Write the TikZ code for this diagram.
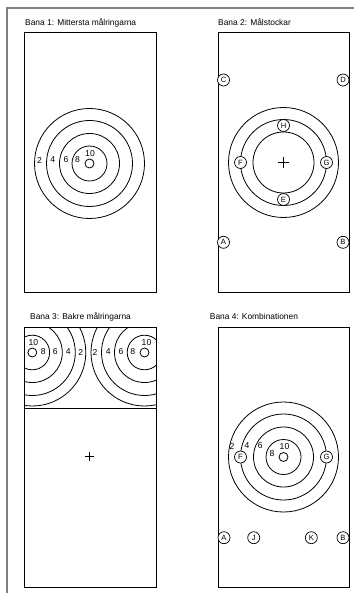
\documentclass[tikz,border=0pt]{standalone}
\usepackage{fontspec}
\setmainfont{Liberation Sans}
\begin{document}
\begin{tikzpicture}[x=1pt,y=-1pt,
  frame/.style={draw=black!50, line width=1.4pt},
  lane/.style={draw=black, line width=0.9pt},
  ring/.style={draw=black, line width=0.8pt},
  title/.style={anchor=base west, inner sep=0pt, font=\fontsize{8.4}{10}\selectfont},
  lbl/.style={inner sep=0pt, font=\fontsize{8.6}{10}\selectfont},
  letter/.style={circle, draw=black, line width=0.7pt, fill=white, minimum size=12pt, inner sep=0pt, font=\fontsize{7.6}{8}\selectfont},
  plus/.style={draw=black, line width=0.7pt}]
\useasboundingbox (0,0) rectangle (354,593);
% outer frame
\draw[frame] (7,593) -- (7,8) -- (354,8);

% ---------- Bana 1 ----------
\node[title] (t1) at (25,26) {Bana 1: Mittersta målringarna};
\draw[lane] (24,32.5) rectangle (156,292.5);
\foreach \r in {55,43,30,17.5,4.5} \draw[ring] (89.5,163.5) circle (\r);
\node[lbl] (b1l2) at (39.5,160) {2};
\node[lbl] (b1l4) at (52.8,160) {4};
\node[lbl] (b1l6) at (66,160) {6};
\node[lbl] (b1l8) at (77.5,160) {8};
\node[lbl] (b1l10) at (90,153.3) {10};

% ---------- Bana 2 ----------
\node[title] (t2) at (218,26) {Bana 2: Målstockar};
\draw[lane] (218,32.5) rectangle (349,292.5);
\foreach \r in {55,43,30.5} \draw[ring] (283.5,162.5) circle (\r);
\draw[plus] (278.2,162.5) -- (288.8,162.5) (283.5,157.2) -- (283.5,167.8);
\node[letter] (b2C) at (223.5,80) {C};
\node[letter] (b2D) at (343,80) {D};
\node[letter] (b2A) at (223.5,242.3) {A};
\node[letter] (b2B) at (343,242.3) {B};
\node[letter] (b2H) at (283.5,125.5) {H};
\node[letter] (b2E) at (283.5,199.5) {E};
\node[letter] (b2F) at (240.5,162.5) {F};
\node[letter] (b2G) at (326.5,162.5) {G};

% ---------- Bana 3 ----------
\node[title] (t3) at (30,319.8) {Bana 3: Bakre målringarna};
\begin{scope}
  \clip (24,327) rectangle (156,408.3);
  \foreach \r in {53.5,43,30,17.3} {
    \draw[ring] (32.3,352.5) circle (\r);
    \draw[ring] (144.5,352.5) circle (\r);
  }
\end{scope}
\draw[ring] (32.3,352.5) circle (4.5);
\draw[ring] (144.5,352.5) circle (4.5);
\draw[lane] (24,327) rectangle (156,587.5);
\draw[lane] (24,408.3) -- (156,408.3);
\draw[plus] (84.8,456.7) -- (94.2,456.7) (89.5,452) -- (89.5,461.4);
\node[lbl] (b3l10) at (33.3,342.5) {10};
\node[lbl] (b3l8) at (43.3,352) {8};
\node[lbl] (b3l6) at (55.2,352) {6};
\node[lbl] (b3l4) at (68.3,352) {4};
\node[lbl] (b3l2) at (80.7,352) {2};
\node[lbl] (b3r2) at (95,352) {2};
\node[lbl] (b3r4) at (108.3,352) {4};
\node[lbl] (b3r6) at (121,352) {6};
\node[lbl] (b3r8) at (132.7,352) {8};
\node[lbl] (b3r10) at (146.5,342.5) {10};

% ---------- Bana 4 ----------
\node[title] (t4) at (209.7,319.8) {Bana 4: Kombinationen};
\draw[lane] (218,327) rectangle (349,587.5);
\foreach \r in {55,43,30,17.5,4.5} \draw[ring] (283.5,457) circle (\r);
\node[letter] (b4F) at (240.5,457) {F};
\node[letter] (b4G) at (326.5,457) {G};
\node[lbl] (b4l2) at (232,446) {2};
\node[lbl] (b4l4) at (247,446) {4};
\node[lbl] (b4l6) at (260.3,446) {6};
\node[lbl] (b4l8) at (272,453.3) {8};
\node[lbl] (b4l10) at (284.5,446.7) {10};
\node[letter] (b4A) at (224,537.7) {A};
\node[letter] (b4J) at (253.7,537.7) {J};
\node[letter] (b4K) at (311.3,537.7) {K};
\node[letter] (b4B) at (343,537.7) {B};
\end{tikzpicture}
\end{document}
